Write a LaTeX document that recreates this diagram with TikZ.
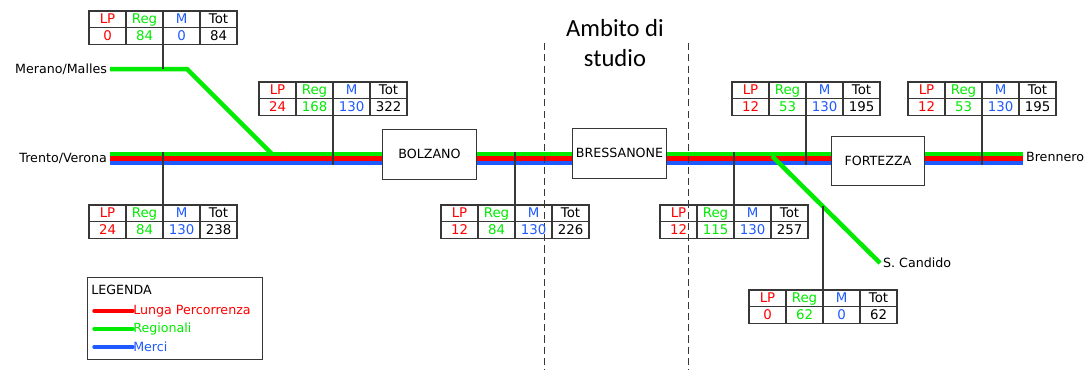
\documentclass[tikz,border=0pt]{standalone}
\usepackage{fontspec}
\setmainfont{DejaVu Sans}
\newfontfamily\ambitofont{Carlito}
\usetikzlibrary{positioning,calc}
\definecolor{lpred}{RGB}{255,0,0}
\definecolor{reggreen}{RGB}{0,235,0}
\definecolor{mblue}{RGB}{30,90,255}
\definecolor{framegray}{RGB}{55,55,55}
\tikzset{
  cell/.style={draw=framegray, line width=0.9pt, minimum width=0.925cm, minimum height=0.42cm, inner sep=0pt, outer sep=0pt, text height=7.5pt, text depth=1pt, font=\fontsize{9.5}{10}\selectfont},
  station/.style={draw=framegray, fill=white, line width=0.7pt, minimum width=2.325cm, minimum height=1.25cm, inner sep=1pt, font=\fontsize{9}{10}\selectfont},
  place/.style={inner sep=2pt, font=\fontsize{9}{10}\selectfont},
  track/.style={line width=3.2pt},
  tick/.style={draw=framegray, line width=0.8pt},
  border/.style={draw=framegray, line width=0.6pt, dash pattern=on 5pt off 3pt},
  legbox/.style={draw=framegray, line width=0.9pt, minimum width=4.375cm, minimum height=2.05cm},
  legtext/.style={inner sep=0pt, font=\fontsize{9}{10}\selectfont},
  legline/.style={line width=2.4pt, line cap=round}
}
\newcommand{\flowtab}[6]{%
  \node[cell, anchor=north west, text=lpred] (#1-lp) at (#2) {LP};
  \node[cell, right=0pt of #1-lp, text=reggreen] (#1-reg) {Reg};
  \node[cell, right=0pt of #1-reg, text=mblue] (#1-m) {M};
  \node[cell, right=0pt of #1-m] (#1-tot) {Tot};
  \node[cell, below=0pt of #1-lp, text=lpred] (#1-lpv) {#3};
  \node[cell, below=0pt of #1-reg, text=reggreen] (#1-regv) {#4};
  \node[cell, below=0pt of #1-m, text=mblue] (#1-mv) {#5};
  \node[cell, below=0pt of #1-tot] (#1-totv) {#6};
}
\newcommand{\tracks}[2]{%
  \draw[track, reggreen] ($(#1)+(0,-4.5)$) -- ($(#2)+(0,-4.5)$);
  \draw[track, lpred] (#1) -- (#2);
  \draw[track, mblue] ($(#1)+(0,4.5)$) -- ($(#2)+(0,4.5)$);
}

\begin{document}
\begin{tikzpicture}[x=0.025cm, y=-0.025cm]
  \useasboundingbox[fill=white] (0,0) rectangle (1088,370);
  \coordinate (trk) at (0,158.5);
  \coordinate (trkt) at (0,152);
  \coordinate (trkb) at (0,165);

  \node[station] (bolzano) at (429.5,154) {BOLZANO};
  \node[station] (bressanone) at (619.5,153) {BRESSANONE};
  \node[station, minimum height=1.225cm] (fortezza) at (878,160.5) {FORTEZZA};
  \coordinate (bz-w) at (bolzano.west |- trk);
  \coordinate (bz-e) at (bolzano.east |- trk);
  \coordinate (bx-w) at (bressanone.west |- trk);
  \coordinate (bx-e) at (bressanone.east |- trk);
  \coordinate (fz-w) at (fortezza.west |- trk);
  \coordinate (fz-e) at (fortezza.east |- trk);

  \node[place, anchor=east] (trento) at (110,158.5) {Trento/Verona};
  \node[place, anchor=east] (merano) at (110,69) {Merano/Malles};
  \node[place, anchor=west] (brennero) at (1023,157) {Brennero};
  \node[place, anchor=west] (candido) at (880,263) {S. Candido};
  \coordinate (mbend) at (187,69);
  \coordinate (mjoin) at (272,154);
  \coordinate (scjoin) at (772,156);

  \tracks{trento.east}{bz-w}
  \tracks{bz-e}{bx-w}
  \tracks{bx-e}{fz-w}
  \tracks{fz-e}{brennero.west |- trk}
  \draw[track, reggreen] (merano.east) -- (mbend) -- (mjoin);
  \draw[track, reggreen] (scjoin) -- (candido.west);
  \path (scjoin) -- (candido.west) coordinate[pos=0.47] (sctap);

  \node[font=\ambitofont\fontsize{17.5}{21.5}\selectfont, align=center] (ambito) at (615,43) {Ambito di\\studio};
  \coordinate (amb-lt) at (544,43);
  \coordinate (amb-lb) at (544,370);
  \coordinate (amb-rt) at (688,43);
  \coordinate (amb-rb) at (688,370);
  \draw[border] (amb-lt) -- (amb-lb);
  \draw[border] (amb-rt) -- (amb-rb);

  \flowtab{t84}{89,11}{0}{84}{0}{84}
  \flowtab{t322}{259,82}{24}{168}{130}{322}
  \flowtab{t238}{89,205}{24}{84}{130}{238}
  \flowtab{t226}{441,205}{12}{84}{130}{226}
  \flowtab{t195a}{732,82}{12}{53}{130}{195}
  \flowtab{t195b}{908,82}{12}{53}{130}{195}
  \flowtab{t257}{660,205}{12}{115}{130}{257}
  \flowtab{t62}{749,290}{0}{62}{0}{62}

  \draw[tick] (t84-mv.south west) -- (t84-mv.south west |- mbend);
  \draw[tick] (t322-mv.south west) -- (t322-mv.south west |- trkb);
  \draw[tick] (t195a-mv.south west) -- (t195a-mv.south west |- trkb);
  \draw[tick] (t195b-mv.south west) -- (t195b-mv.south west |- trkb);
  \draw[tick] (t238-m.north west) -- (t238-m.north west |- trkt);
  \draw[tick] (t226-m.north west) -- (t226-m.north west |- trkt);
  \draw[tick] (t257-m.north west) -- (t257-m.north west |- trkt);
  \draw[tick] (t62-m.north west) -- (t62-m.north west |- sctap);

  \node[legbox, anchor=north west] (legenda) at (87,277) {};
  \node[legtext, anchor=west] (legtitle) at (91,290) {LEGENDA};
  \node[legtext, anchor=west, text=lpred] (leglp) at (133,311) {Lunga Percorrenza};
  \node[legtext, anchor=west, text=reggreen] (legreg) at (133,329) {Regionali};
  \node[legtext, anchor=west, text=mblue] (legm) at (133,347) {Merci};
  \draw[legline, lpred] (leglp.west) -- ++(-39,0);
  \draw[legline, reggreen] (legreg.west) -- ++(-39,0);
  \draw[legline, mblue] (legm.west) -- ++(-39,0);
\end{tikzpicture}
\end{document}
